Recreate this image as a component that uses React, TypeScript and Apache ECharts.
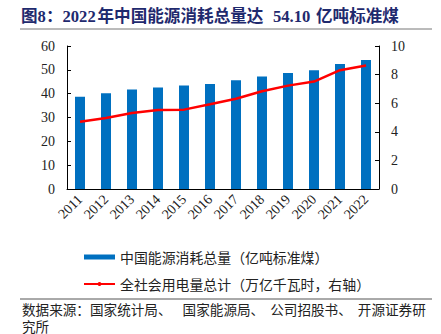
import React, { useEffect, useRef } from "react";
import * as echarts from "echarts";

const years = ["2011", "2012", "2013", "2014", "2015", "2016", "2017", "2018", "2019", "2020", "2021", "2022"];
const energyConsumption = [38.7, 40.2, 41.7, 42.6, 43.4, 44.1, 45.6, 47.2, 48.7, 49.8, 52.4, 54.1];
const electricityUse = [4.70, 4.97, 5.32, 5.52, 5.55, 5.92, 6.31, 6.84, 7.23, 7.51, 8.31, 8.64];
const barName = "中国能源消耗总量（亿吨标准煤）";
const lineName = "全社会用电量总计（万亿千瓦时，右轴）";
const titleParts = ["图8：", "2022", "年中国能源消耗总量达", "54.10", "亿吨标准煤"];
const sourceParts = ["数据来源：国家统计局、", "国家能源局、", "公司招股书、", "开源证券研"];
const sourceLine2 = "究所";

const serif = "'Liberation Serif', 'Times New Roman', serif";
const cjk = "'Noto Sans CJK SC', sans-serif";
const titleFont = "'Liberation Serif', 'Noto Sans CJK SC', serif";
const titleLefts = [21, 62.5, 97.5, 273, 316];
const sourceLefts = [22, 182.6, 270.2, 357.8];

export default function App() {
  const ref = useRef<HTMLDivElement>(null);
  useEffect(() => {
    document.body.style.margin = "0";
    const chart = echarts.init(ref.current!, null, { renderer: "svg" });
    const titleGraphics = titleParts.map((t, i) => ({
      type: "text",
      x: titleLefts[i],
      y: 16,
      style: {
        text: t,
        fontFamily: titleFont,
        fontWeight: "bold",
        fontSize: 16.6,
        fill: "#1F2A6E",
        textVerticalAlign: "middle",
      },
    }));
    const sourceGraphics = sourceParts.map((t, i) => ({
      type: "text",
      x: sourceLefts[i],
      y: 308.5,
      style: { text: t, fontFamily: cjk, fontSize: 13.6, fill: "#222", textVerticalAlign: "middle" },
    }));
    chart.setOption({
      animation: false,
      backgroundColor: "#ffffff",
      grid: { left: 67, right: 62, top: 46, bottom: 145 },
      legend: {
        orient: "vertical",
        left: 78,
        top: 245,
        itemWidth: 31,
        itemHeight: 5,
        itemGap: 13,
        textStyle: { fontFamily: cjk, fontSize: 13.9, color: "#222", lineHeight: 14 },
        data: [
          { name: barName, icon: "rect" },
          { name: lineName },
        ],
      },
      xAxis: {
        type: "category",
        data: years,
        axisLine: { lineStyle: { color: "#000", width: 1 } },
        axisTick: { inside: true, length: 4, lineStyle: { color: "#000" } },
        axisLabel: { rotate: 45, fontFamily: serif, fontSize: 14, color: "#222", margin: 8 },
      },
      yAxis: [
        {
          type: "value",
          min: 0,
          max: 60,
          interval: 10,
          splitLine: { show: false },
          axisLine: { show: true, lineStyle: { color: "#000" } },
          axisTick: { show: true, inside: true, length: 4, lineStyle: { color: "#000" } },
          axisLabel: { fontFamily: serif, fontSize: 14, color: "#222", margin: 12 },
        },
        {
          type: "value",
          min: 0,
          max: 10,
          interval: 2,
          splitLine: { show: false },
          axisLine: { show: true, lineStyle: { color: "#000" } },
          axisTick: { show: true, inside: true, length: 4, lineStyle: { color: "#000" } },
          axisLabel: { fontFamily: serif, fontSize: 14, color: "#222", margin: 12 },
        },
      ],
      series: [
        {
          name: barName,
          type: "bar",
          data: energyConsumption,
          barWidth: 10,
          itemStyle: { color: "#0070C0" },
        },
        {
          name: lineName,
          type: "line",
          yAxisIndex: 1,
          data: electricityUse,
          symbol: "none",
          showSymbol: false,
          lineStyle: { color: "#FF0000", width: 2.5 },
          itemStyle: { color: "#FF0000" },
        },
      ],
      graphic: [
        ...titleGraphics,
        {
          type: "line",
          shape: { x1: 20, y1: 29, x2: 432, y2: 29 },
          style: { stroke: "#777", lineWidth: 1 },
        },
        {
          type: "line",
          shape: { x1: 20, y1: 299, x2: 432, y2: 299 },
          style: { stroke: "#555", lineWidth: 1 },
        },
        ...sourceGraphics,
        {
          type: "text",
          x: 22,
          y: 325.5,
          style: { text: sourceLine2, fontFamily: cjk, fontSize: 13.6, fill: "#222", textVerticalAlign: "middle" },
        },
      ],
    });
    return () => chart.dispose();
  }, []);
  return <div ref={ref} style={{ width: 441, height: 334 }} />;
}
